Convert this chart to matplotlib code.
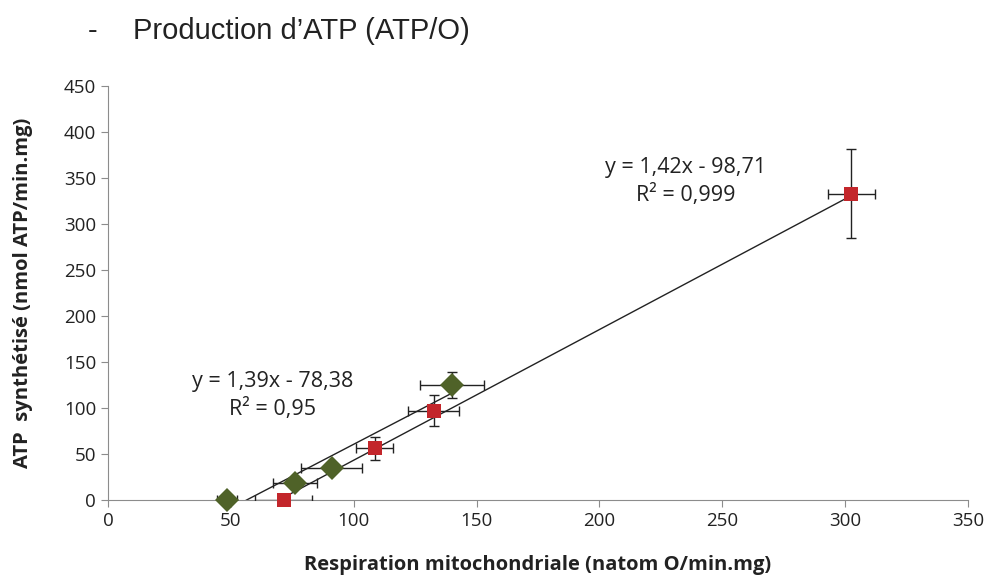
import numpy as np
import matplotlib.pyplot as plt

plt.rcParams['font.family'] = ['Open Sans', 'DejaVu Sans']

# green diamonds
x_g = [48.5, 76, 91, 140]
y_g = [0, 19, 35, 125]
xerr_g = [4, 9, 12.5, 13]
yerr_g = [0, 0, 0, 14]

# red squares
x_r = [71.5, 108.5, 132.5, 302.5]
y_r = [0, 56, 97, 333]
xerr_r = [11.5, 7.5, 10.5, 9.5]
yerr_r = [0, 13, 17, 48]

# trend lines (slope, intercept)
fit_g = (1.39, -78.38)
fit_r = (1.42, -98.71)

green = '#4F6228'
red = '#C3262B'

fig = plt.figure(figsize=(9.92, 5.79), dpi=100)
ax = fig.add_axes([0.1089, 0.1364, 0.8669, 0.7151])

# trendlines
xl = np.linspace(min(x_g), max(x_g), 100)
ax.plot(xl, fit_g[0] * xl + fit_g[1], color='#222222', lw=1.0, zorder=2)
xl = np.linspace(min(x_r), max(x_r), 100)
ax.plot(xl, fit_r[0] * xl + fit_r[1], color='#222222', lw=1.0, zorder=2)

ax.errorbar(x_g, y_g, xerr=xerr_g, yerr=yerr_g, fmt='none', ecolor='#222222',
            elinewidth=1, capsize=3.5, capthick=1, zorder=3)
ax.errorbar(x_r, y_r, xerr=xerr_r, yerr=yerr_r, fmt='none', ecolor='#222222',
            elinewidth=1, capsize=3.5, capthick=1, zorder=3)
ax.plot(x_g, y_g, 'D', color=green, markersize=12, markeredgewidth=0, zorder=4,
        clip_on=False)
ax.plot(x_r, y_r, 's', color=red, markersize=9.5, markeredgewidth=0, zorder=4,
        clip_on=False)

ax.set_xlim(0, 350)
ax.set_ylim(0, 450)
ax.set_xticks(range(0, 351, 50))
ax.set_yticks(range(0, 451, 50))
for s in ['top', 'right']:
    ax.spines[s].set_visible(False)
for s in ['left', 'bottom']:
    ax.spines[s].set_color('#8c8c8c')
ax.tick_params(axis='both', colors='#8c8c8c', labelcolor='#222222', labelsize=13.5,
               length=5, direction='out')

ax.set_xlabel('Respiration mitochondriale (natom O/min.mg)', fontsize=14.5,
              fontweight='bold', color='#222222', labelpad=18)
ax.set_ylabel('ATP  synthétisé (nmol ATP/min.mg)', fontsize=14.5,
              fontweight='bold', color='#222222', labelpad=22)

ax.text(235, 373, 'y = 1,42x - 98,71\nR² = 0,999', fontsize=15.5, ha='center',
        va='top', color='#222222', linespacing=1.35)
ax.text(67, 140, 'y = 1,39x - 78,38\nR² = 0,95', fontsize=15.5, ha='center',
        va='top', color='#222222', linespacing=1.35)

fig.text(88 / 992, 1 - 31 / 579, '-', fontsize=21, family='Liberation Sans',
         va='center', color='#222222')
fig.text(133 / 992, 1 - 31 / 579, 'Production d’ATP (ATP/O)', fontsize=21,
         family='Liberation Sans', va='center', color='#222222')

fig.savefig('out.png', dpi=100)
